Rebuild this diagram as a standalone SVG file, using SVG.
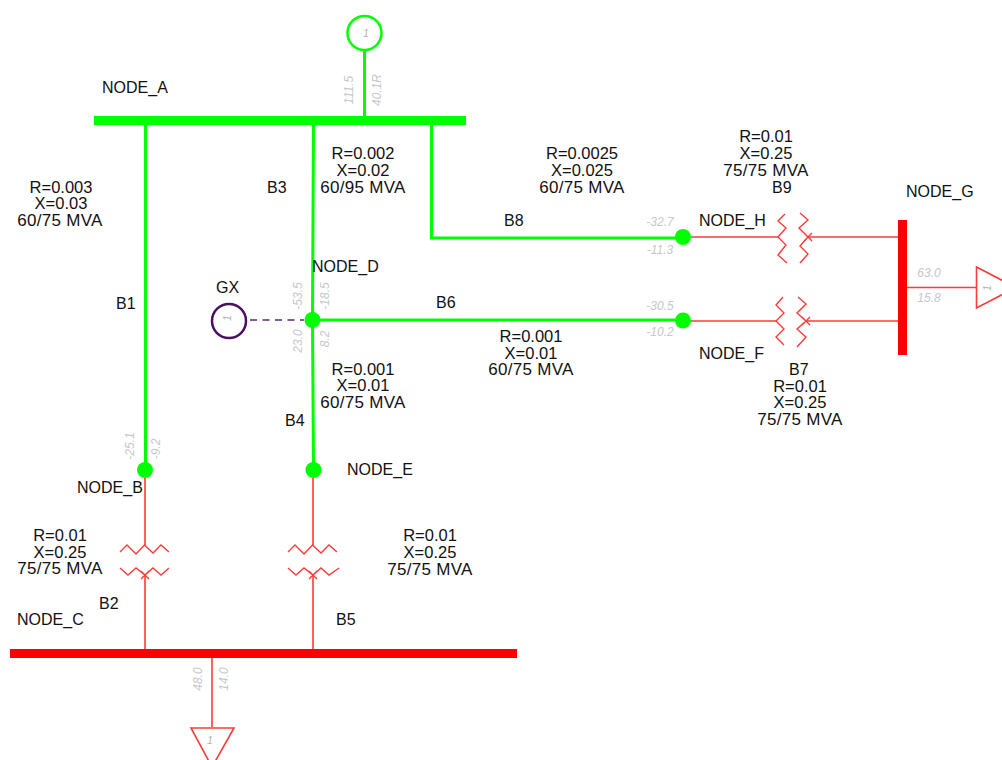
<svg xmlns="http://www.w3.org/2000/svg" width="1002" height="760" viewBox="0 0 1002 760">
<style>
text{font-family:"Liberation Sans",Arial,sans-serif}
.l{font-size:16px;fill:#111}
.m{text-anchor:middle}
.p{font-size:16.500px;fill:#111;text-anchor:middle}
.v{font-size:17px;letter-spacing:.3px;fill:#111;text-anchor:middle}
.f{font-size:12px;font-style:italic;fill:#c6c8cc}
.n{font-size:10.500px;font-style:italic;fill:#b4b4b4;text-anchor:middle}
.g{stroke:#00ff00;stroke-width:3;fill:none}
.r{stroke:#ff3a3a;stroke-width:1.600;fill:none}
.c{stroke:#ff3a3a;stroke-width:1.400;fill:none}
.bg{fill:#00ff00}
.br{fill:#ff0000}
</style>
<rect width="1002" height="760" fill="#ffffff"/>
<g id="connectors">
<path class="g" d="M364.500 50V118M145.500 120V470M313.500 120L312.500 320L313.500 470M431.500 120V238H683M312 320H683"/>
<path d="M250 320H304" stroke="#5e2a6e" stroke-width="1.600" stroke-dasharray="7 5.500" fill="none"/>
<path class="r" d="M691 237H778M808 237H898M691 321H776M806 321H898M907 287.500H976M145 478V545M145 575V649M313 478V545M313 575V649M212 658V727"/>
</g>
<g id="NODE_A"><rect class="bg" x="94" y="116" width="372" height="9"/><text class="l" x="102" y="93">NODE_A</text></g>
<g id="NODE_B"><circle class="bg" cx="145" cy="470" r="8"/><text class="l" x="77" y="493">NODE_B</text></g>
<g id="NODE_C"><rect class="br" x="10" y="649" width="507" height="9"/><text class="l" x="17" y="625">NODE_C</text></g>
<g id="NODE_D"><circle class="bg" cx="312.500" cy="320" r="8"/><text class="l" x="312" y="272">NODE_D</text></g>
<g id="NODE_E"><circle class="bg" cx="313.500" cy="470" r="8"/><text class="l" x="347" y="475">NODE_E</text></g>
<g id="NODE_F"><circle class="bg" cx="683" cy="320.500" r="8"/><text class="l" x="699" y="359">NODE_F</text></g>
<g id="NODE_G"><rect class="br" x="898" y="220" width="9" height="135"/><text class="l" x="906" y="197">NODE_G</text></g>
<g id="NODE_H"><circle class="bg" cx="683" cy="237" r="8"/><text class="l" x="699" y="226">NODE_H</text></g>
<g id="G1"><circle cx="364.500" cy="33" r="17" stroke="#00ff00" stroke-width="2.500" fill="#fff"/><text class="n" x="366" y="37">1</text></g>
<g id="GX"><circle cx="229" cy="321" r="17" stroke="#4b1060" stroke-width="2.500" fill="#fff"/><text class="n" transform="translate(231 318) rotate(-90)">1</text><text class="l" x="216" y="293">GX</text></g>
<g id="LOAD_G"><path class="r" d="M976.500 267L1016 287.500L976.500 308Z" fill="#fff"/><text class="n" transform="translate(991 288) rotate(-90)">1</text></g>
<g id="LOAD_C"><path class="r" d="M191 728H234L212 767Z" fill="#fff"/><text class="n" x="210" y="744">1</text></g>
<g id="B1"><text class="l" x="116" y="309">B1</text><text class="p" x="61" y="193">R=0.003</text><text class="p" x="61" y="209">X=0.03</text><text class="v" x="60" y="226">60/75 MVA</text></g>
<g id="B2">
<path class="c" d="M120 552L127 545L136 554L144.500 545L153 553L161 545L169 552M120 568L128 575L136 568L145 575L153 568L161 575L169 568M141 579L149 571M141 571L149 579"/>
<text class="l" x="99" y="609">B2</text><text class="p" x="60" y="541">R=0.01</text><text class="p" x="60" y="558">X=0.25</text><text class="v" x="60" y="574">75/75 MVA</text></g>
<g id="B3"><text class="l" x="267" y="193">B3</text><text class="p" x="363" y="159">R=0.002</text><text class="p" x="363" y="176">X=0.02</text><text class="v" x="363" y="193">60/95 MVA</text></g>
<g id="B4"><text class="l" x="285" y="426">B4</text><text class="p" x="363" y="375">R=0.001</text><text class="p" x="363" y="391">X=0.01</text><text class="v" x="363" y="408">60/75 MVA</text></g>
<g id="B5">
<path class="c" d="M288 552L295 545L304 554L312.500 545L321 553L329 545L337 552M288 568L296 575L304 568L313 575L321 568L329 575L339 568M309 579L317 571M309 571L317 579"/>
<text class="l" x="336" y="625">B5</text><text class="p" x="430" y="541">R=0.01</text><text class="p" x="430" y="558">X=0.25</text><text class="v" x="430" y="575">75/75 MVA</text></g>
<g id="B6"><text class="l" x="436" y="308">B6</text><text class="p" x="531" y="342">R=0.001</text><text class="p" x="531" y="359">X=0.01</text><text class="v" x="531" y="375">60/75 MVA</text></g>
<g id="B7">
<path class="c" d="M783 297L776 305L784 313L776 321L784 329L776 337L784 345M798 297L806 304L797 313L806 321L797 329L806 337L797 347M802 317L810 325M802 325L810 317"/>
<text class="l" x="789" y="375">B7</text><text class="p" x="800" y="392">R=0.01</text><text class="p" x="800" y="408">X=0.25</text><text class="v" x="800" y="425">75/75 MVA</text></g>
<g id="B8"><text class="l" x="504" y="226">B8</text><text class="p" x="582" y="159">R=0.0025</text><text class="p" x="582" y="176">X=0.025</text><text class="v" x="582" y="193">60/75 MVA</text></g>
<g id="B9">
<path class="c" d="M785 214L778 221L786 228L778 237L786 245L778 255L787 263M800 213L808 220L799 228L808 237L800 246L808 254L800 263M804 233L812 241M804 241L812 233"/>
<text class="l" x="772" y="193">B9</text><text class="p" x="766" y="142">R=0.01</text><text class="p" x="766" y="159">X=0.25</text><text class="v" x="766" y="176">75/75 MVA</text></g>
<g id="flows">
<text class="f m" transform="translate(353 90) rotate(-90)">111.5</text>
<text class="f m" transform="translate(381 90) rotate(-90)">40.1R</text>
<text class="f m" transform="translate(134 446) rotate(-90)">-25.1</text>
<text class="f m" transform="translate(160 449) rotate(-90)">-9.2</text>
<text class="f m" transform="translate(302 296) rotate(-90)">-53.5</text>
<text class="f m" transform="translate(329 296) rotate(-90)">-18.5</text>
<text class="f m" transform="translate(302 341) rotate(-90)">23.0</text>
<text class="f m" transform="translate(329 339) rotate(-90)">8.2</text>
<text class="f m" x="660" y="226">-32.7</text>
<text class="f m" x="660" y="254">-11.3</text>
<text class="f m" x="660" y="310">-30.5</text>
<text class="f m" x="660" y="336">-10.2</text>
<text class="f m" x="929" y="277">63.0</text>
<text class="f m" x="929" y="302">15.8</text>
<text class="f m" transform="translate(202 679) rotate(-90)">48.0</text>
<text class="f m" transform="translate(228 679) rotate(-90)">14.0</text>
</g>
</svg>
